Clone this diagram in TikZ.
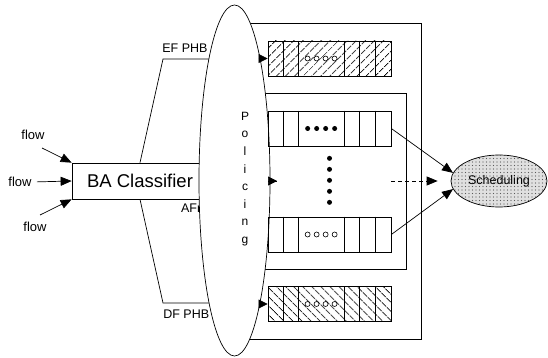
\documentclass[tikz,border=0pt]{standalone}
\usepackage{fontspec}
\setmainfont{Liberation Sans}
\usetikzlibrary{arrows.meta,positioning,shapes.geometric,calc,patterns,patterns.meta}

\begin{document}
\begin{tikzpicture}[
  x=1pt, y=-1pt,
  >={Triangle[length=11pt,width=9pt]},
  line width=0.7pt,
  frame/.style   = {draw, inner sep=0pt},
  clsbox/.style  = {draw, inner sep=0pt, minimum width=136pt, minimum height=36pt,
                    font=\fontsize{18.5}{20}\selectfont},
  policy/.style  = {ellipse, draw, fill=white, inner sep=0pt,
                    minimum width=71pt, minimum height=351pt},
  sched/.style   = {ellipse, draw, inner sep=0pt, minimum width=96pt, minimum height=52pt,
                    preaction={fill=black!12}, pattern={Dots[distance=3.5pt,radius=0.6pt]},
                    pattern color=black!65, font=\fontsize{12.5}{14}\selectfont},
  queue/.style   = {draw, inner sep=0pt, minimum width=123pt, minimum height=35pt},
  hatchne/.style = {pattern={Lines[angle=45,distance=6.5pt,line width=0.9pt]}},
  hatchnw/.style = {pattern={Lines[angle=-45,distance=6.5pt,line width=0.9pt]}},
  bigdot/.style  = {circle, fill, inner sep=0pt, minimum size=5pt},
  ring/.style    = {circle, draw, inner sep=0pt, minimum size=5pt, line width=0.6pt},
  lbl/.style     = {inner sep=0pt, font=\fontsize{12.5}{14}\selectfont},
  arr/.style     = {->},
  headarr/.style = {-{Triangle[length=9pt,width=9pt]}},
  darr/.style    = {->, dash pattern=on 4pt off 3pt}
]
\useasboundingbox (0,0) rectangle (548,358);

%%% ---- QUEUE FRAMES (behind the policer) ----
\coordinate (polc) at (234.5,180.5);
\node[frame, minimum width=191pt, minimum height=316pt] (phbbox) at (325.5,181) {};
\node[frame, minimum width=171pt, minimum height=176pt] (afbox)  at (320.5,181) {};

%%% ---- CLASSIFIER ----
\node[clsbox] (cls) at (140,181) {BA Classifier};

\coordinate (efcorner) at (163,59);
\coordinate (dfcorner) at (163,303);
\coordinate (aftip)    at (277,181);

\draw (cls.north) -- (efcorner) -- (polc |- efcorner);
\draw (cls.south) -- (dfcorner) -- (polc |- dfcorner);
\draw (cls.east)  -- (aftip);

\node[lbl,above right=6pt and -1pt of efcorner] (eflbl) {EF PHB};
\node[lbl,below right=7pt and 0pt of dfcorner]  (dflbl) {DF PHB};
\node[lbl,below left=4pt and 4pt of cls.south east, anchor=north east] (aflbl) {AFn};

%%% ---- POLICING ----
\node[policy] (policer) at (polc) {};
\node[lbl, align=center, font=\fontsize{12}{17.6}\selectfont] (poltxt) at (245,179)
     {P\\o\\l\\i\\c\\i\\n\\g};

%%% ---- QUEUES ----
\node[queue, hatchne] (efq)  at (329.5,58.5)  {};
\node[queue]          (afq)  at (329.5,128.5) {};
\node[queue]          (afqn) at (329.5,234.5) {};
\node[queue, hatchnw] (dfq)  at (329.5,304)   {};

\foreach \q in {efq,afq,afqn,dfq}
  \foreach \d in {16,31,77,92,108}
    \draw ($(\q.north west)+(\d,0)$) -- ($(\q.south west)+(\d,0)$);

\foreach \q/\s in {efq/ring,afq/bigdot,afqn/ring,dfq/ring}
  \foreach \d in {40,49,58,67}
    \node[\s] (\q-\d) at ($(\q.west)+(\d,0)$) {};

\foreach \i in {0,...,4}
  \node[bigdot] (vd\i) at ($(afq.south)+(0,{12+11*\i})$) {};

\draw[headarr] ([xshift=-9pt]efq.west) -- (efq.west);
\draw[headarr] ([xshift=-9pt]aftip)    -- (aftip);
\draw[headarr] ([xshift=-9pt]dfq.west) -- (dfq.west);

%%% ---- SCHEDULING ----
\node[sched] (sch) at (499,181) {Scheduling};

\draw[arr]  (afq.east)  -- (sch.170);
\draw[arr]  (afqn.east) -- (sch.190);
\draw[darr, shorten >=13pt] (afq.east |- cls.east) -- (sch.west);

%%% ---- INPUT FLOWS ----
\node[lbl, font=\fontsize{13}{14}\selectfont] (flowa) at (33,135) {flow};
\node[lbl, font=\fontsize{13}{14}\selectfont] (flowb) at (20,182) {flow};
\node[lbl, font=\fontsize{13}{14}\selectfont] (flowc) at (35,227) {flow};
\coordinate (flowas) at (42,148);
\coordinate (flowcs) at (40,215);

\draw[arr] (flowas) -- (cls.north west);
\draw[arr, shorten <=5pt] (flowb.east) -- (cls.west);
\draw[arr] (flowcs) -- (cls.south west);
\end{tikzpicture}
\end{document}
